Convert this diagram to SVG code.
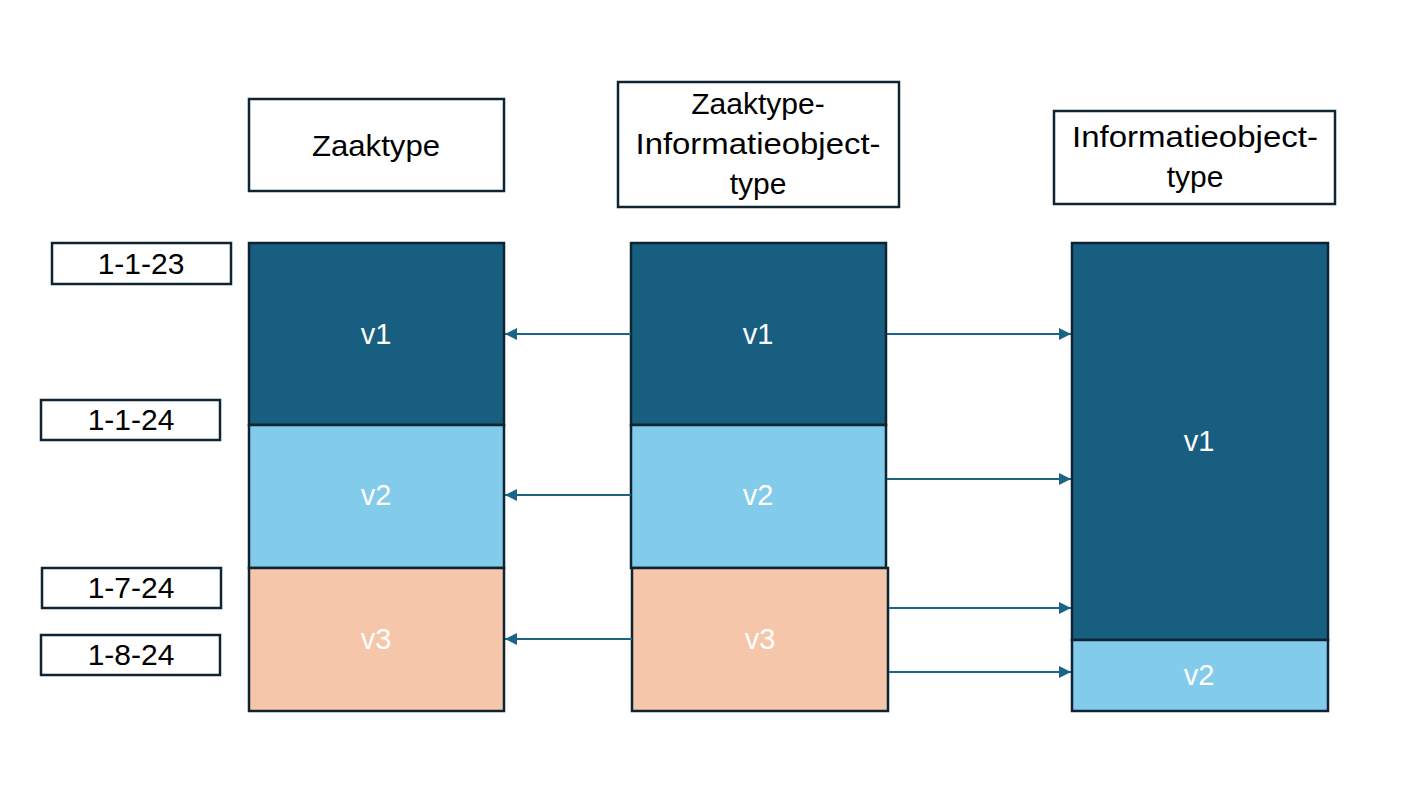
<svg xmlns="http://www.w3.org/2000/svg" width="1403" height="786" viewBox="0 0 1403 786">
<style>
.box{fill:#ffffff;stroke:#0e2433;stroke-width:2.5}
.dark{fill:#175e81;stroke:#0e2433;stroke-width:2.5}
.light{fill:#83cbeb;stroke:#0e2433;stroke-width:2.5}
.peach{fill:#f5c6aa;stroke:#0e2433;stroke-width:2.5}
.t{font-family:"Liberation Sans",Arial,sans-serif;font-size:30px;fill:#000;text-anchor:middle}
.h{font-family:"Liberation Sans",Arial,sans-serif;font-size:30px;fill:#000;text-anchor:middle}
.w{font-family:"Liberation Sans",Arial,sans-serif;font-size:29px;fill:#fff;text-anchor:middle}
.c{stroke:#1a6486;stroke-width:2;fill:none;marker-end:url(#ah)}
</style>
<defs>
<marker id="ah" viewBox="0 0 10 10" refX="10" refY="5" markerWidth="6" markerHeight="6" orient="auto" markerUnits="strokeWidth">
<path d="M0,0 L10,5 L0,10 z" fill="#1a6486"/>
</marker>
</defs>
<rect width="1403" height="786" fill="#ffffff"/>
<g id="hdr-zaaktype"><rect class="box" x="249" y="99" width="255" height="92"/><text class="h" x="376" y="156" textLength="128" lengthAdjust="spacingAndGlyphs">Zaaktype</text></g>
<g id="hdr-ziot"><rect class="box" x="618" y="82" width="281" height="125"/><text class="h" x="758" y="114">Zaaktype-</text><text class="h" x="758" y="154" textLength="245" lengthAdjust="spacingAndGlyphs">Informatieobject-</text><text class="h" x="758" y="194">type</text></g>
<g id="hdr-iot"><rect class="box" x="1054" y="111" width="281" height="93"/><text class="h" x="1195" y="147" textLength="246" lengthAdjust="spacingAndGlyphs">Informatieobject-</text><text class="h" x="1195" y="187">type</text></g>
<g id="d1"><rect class="box" x="52" y="243" width="179" height="41"/><text class="t" x="141" y="274">1-1-23</text></g>
<g id="d2"><rect class="box" x="41" y="400" width="179" height="40"/><text class="t" x="131" y="430">1-1-24</text></g>
<g id="d3"><rect class="box" x="42" y="568" width="179" height="40"/><text class="t" x="131" y="598">1-7-24</text></g>
<g id="d4"><rect class="box" x="41" y="635" width="179" height="40"/><text class="t" x="131" y="665">1-8-24</text></g>
<g id="zt-v1"><rect class="dark" x="249" y="243" width="255" height="182"/><text class="w" x="376" y="344">v1</text></g>
<g id="zt-v2"><rect class="light" x="249" y="425" width="255" height="143"/><text class="w" x="376" y="505">v2</text></g>
<g id="zt-v3"><rect class="peach" x="249" y="568" width="255" height="143"/><text class="w" x="376" y="649">v3</text></g>
<g id="ziot-v1"><rect class="dark" x="631" y="243" width="255" height="182"/><text class="w" x="758" y="344">v1</text></g>
<g id="ziot-v2"><rect class="light" x="631" y="425" width="255" height="143"/><text class="w" x="758" y="505">v2</text></g>
<g id="ziot-v3"><rect class="peach" x="632" y="568" width="256" height="143"/><text class="w" x="760" y="649">v3</text></g>
<g id="iot-v1"><rect class="dark" x="1072" y="243" width="256" height="397"/><text class="w" x="1199" y="451">v1</text></g>
<g id="iot-v2"><rect class="light" x="1072" y="640" width="256" height="71"/><text class="w" x="1199" y="685">v2</text></g>
<g id="connectors">
<line class="c" x1="631" y1="334" x2="505" y2="334"/>
<line class="c" x1="631" y1="495" x2="505" y2="495"/>
<line class="c" x1="632" y1="639" x2="505" y2="639"/>
<line class="c" x1="887" y1="334" x2="1071" y2="334"/>
<line class="c" x1="887" y1="479" x2="1071" y2="479"/>
<line class="c" x1="889" y1="608" x2="1071" y2="608"/>
<line class="c" x1="889" y1="672" x2="1071" y2="672"/>
</g>
</svg>
